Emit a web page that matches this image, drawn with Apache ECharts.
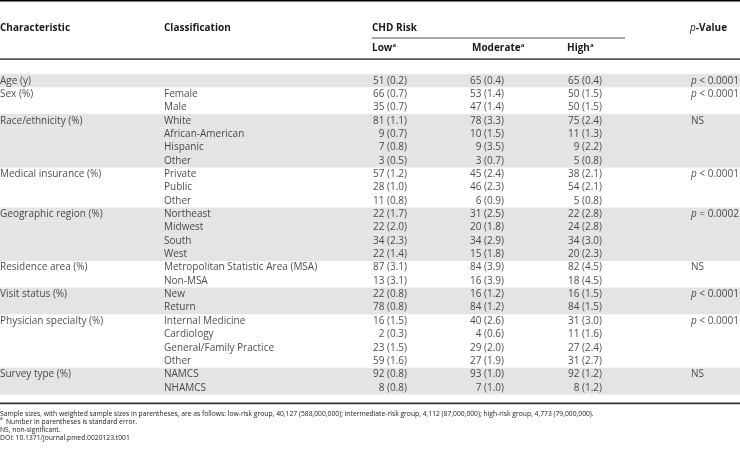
<!DOCTYPE html>
<html>
<head>
<meta charset="utf-8">
<script src="https://cdn.jsdelivr.net/npm/echarts@6/dist/echarts.min.js"></script>
<style>
html,body{margin:0;padding:0;background:#fff;}
#chart{width:740px;height:459px;}
</style>
</head>
<body>
<div id="chart"></div>
<script>
// ---- Table data ----
const characteristics = ['Age (y)', 'Sex (%)', 'Race/ethnicity (%)', 'Medical insurance (%)',
  'Geographic region (%)', 'Residence area (%)', 'Visit status (%)', 'Physician specialty (%)', 'Survey type (%)'];
const groupSizes = [1, 2, 4, 3, 4, 2, 2, 4, 2];
const classifications = ['', 'Female', 'Male', 'White', 'African-American', 'Hispanic', 'Other',
  'Private', 'Public', 'Other', 'Northeast', 'Midwest', 'South', 'West',
  'Metropolitan Statistic Area (MSA)', 'Non-MSA', 'New', 'Return',
  'Internal Medicine', 'Cardiology', 'General/Family Practice', 'Other', 'NAMCS', 'NHAMCS'];
const lowValue  = [51, 66, 35, 81, 9, 7, 3, 57, 28, 11, 22, 22, 34, 22, 87, 13, 22, 78, 16, 2, 23, 59, 92, 8];
const lowSE     = [0.2, 0.7, 0.7, 1.1, 0.7, 0.8, 0.5, 1.2, 1.0, 0.8, 1.7, 2.0, 2.3, 1.4, 3.1, 3.1, 0.8, 0.8, 1.5, 0.3, 1.5, 1.6, 0.8, 0.8];
const modValue  = [65, 53, 47, 78, 10, 9, 3, 45, 46, 6, 31, 20, 34, 15, 84, 16, 16, 84, 40, 4, 29, 27, 93, 7];
const modSE     = [0.4, 1.4, 1.4, 3.3, 1.5, 3.5, 0.7, 2.4, 2.3, 0.9, 2.5, 1.8, 2.9, 1.8, 3.9, 3.9, 1.2, 1.2, 2.6, 0.6, 2.0, 1.9, 1.0, 1.0];
const highValue = [65, 50, 50, 75, 11, 9, 5, 38, 54, 5, 22, 24, 34, 20, 82, 18, 16, 84, 31, 11, 27, 31, 92, 8];
const highSE    = [0.4, 1.5, 1.5, 2.4, 1.3, 2.2, 0.8, 2.1, 2.1, 0.8, 2.8, 2.8, 3.0, 2.3, 4.5, 4.5, 1.5, 1.5, 3.0, 1.6, 2.4, 2.7, 1.2, 1.2];
const pValues = ['< 0.0001', '< 0.0001', 'NS', '< 0.0001', '= 0.0002', 'NS', '< 0.0001', '< 0.0001', 'NS'];
const headers = ['Characteristic', 'Classification', 'CHD Risk', 'Low', 'Moderate', 'High', 'p-Value'];
const footnotes = [
  'Sample sizes, with weighted sample sizes in parentheses, are as follows: low-risk group, 40,127 (588,000,000); intermediate-risk group, 4,112 (87,000,000); high-risk group, 4,773 (79,000,000).',
  'Number in parentheses is standard error.',
  'NS, non-significant.',
  'DOI: 10.1371/journal.pmed.0020123.t001'
];

// ---- Layout constants ----
const W = 740;
const ROW_H = 13.35;
const BODY_TOP = 74;
const nRows = classifications.length;
const COL = { charX: 0, classX: 164, lowR: 407, modR: 504, highR: 602, pX: 691 };
const FONT = '"Open Sans", "Noto Sans", sans-serif';
const FS = 10;
const FN = 6.75;
const TXT = '#1a1a1a';

// derive group info per row
const rowGroup = [];
const groupStart = [];
groupSizes.forEach((n, g) => { groupStart.push(rowGroup.length); for (let i = 0; i < n; i++) rowGroup.push(g); });
const rowIds = classifications.map((_, i) => 'r' + i);

const fmt = (v, se) => v + ' (' + se.toFixed(1) + ')';

function textSeries(name, x, texts, align, rich) {
  const data = [];
  texts.forEach((t, i) => { if (t !== null && t !== '') data.push({ value: [x, i], txt: t }); });
  return {
    type: 'scatter', name, symbolSize: 0, silent: true, data,
    label: {
      show: true, position: align === 'right' ? 'left' : 'right', distance: 0,
      formatter: p => p.data.txt,
      fontFamily: FONT, fontSize: FS, color: TXT, rich: rich || undefined
    }
  };
}

const charCol = rowIds.map((_, i) => { const g = rowGroup[i]; return groupStart[g] === i ? characteristics[g] : ''; });
const pCol = rowIds.map((_, i) => {
  const g = rowGroup[i];
  if (groupStart[g] !== i) return '';
  const pv = pValues[g];
  return pv === 'NS' ? 'NS' : '{i|p} ' + pv;
});

const shadeData = rowIds.map((_, i) => (rowGroup[i] % 2 === 0 ? W : '-'));

const hdrFont = (size, weight) => ({ fontFamily: FONT, fontSize: size, fontWeight: weight, fill: TXT });
const supRich = {
  b: { fontFamily: FONT, fontSize: FS, fontWeight: 'bold', fill: TXT, color: TXT, lineHeight: 13 },
  s: { fontFamily: FONT, fontSize: 6, fontWeight: 'bold', fill: TXT, color: TXT, lineHeight: 13, verticalAlign: 'top', padding: [0, 0, 4, 0] }
};

const graphic = [
  { type: 'rect', shape: { x: 0, y: 0, width: W, height: 1.5 }, style: { fill: '#000' }, silent: true },
  { type: 'rect', shape: { x: 372, y: 37.5, width: 253, height: 1 }, style: { fill: '#555' }, silent: true },
  { type: 'rect', shape: { x: 0, y: 58.3, width: W, height: 1.6 }, style: { fill: '#555' }, silent: true },
  { type: 'rect', shape: { x: 0, y: 402.6, width: W, height: 1.6 }, style: { fill: '#333' }, silent: true },
  { type: 'text', x: COL.charX, y: 28, style: Object.assign({ text: headers[0], verticalAlign: 'middle' }, hdrFont(FS, 'bold')) },
  { type: 'text', x: COL.classX, y: 28, style: Object.assign({ text: headers[1], verticalAlign: 'middle' }, hdrFont(FS, 'bold')) },
  { type: 'text', x: 372, y: 28.5, style: Object.assign({ text: headers[2], verticalAlign: 'middle' }, hdrFont(FS, 'bold')) },
  { type: 'text', x: COL.pX - 1, y: 28, style: { text: '{i|p}{b|-Value}', verticalAlign: 'middle',
      rich: { i: { fontFamily: FONT, fontSize: FS, fontStyle: 'italic', fill: TXT }, b: { fontFamily: FONT, fontSize: FS, fontWeight: 'bold', fill: TXT } } } },
  { type: 'text', x: 372, y: 48.5, style: { text: '{b|' + headers[3] + '}{s|a}', verticalAlign: 'middle', rich: supRich } },
  { type: 'text', x: 472, y: 48.5, style: { text: '{b|' + headers[4] + '}{s|a}', verticalAlign: 'middle', rich: supRich } },
  { type: 'text', x: 567, y: 48.5, style: { text: '{b|' + headers[5] + '}{s|a}', verticalAlign: 'middle', rich: supRich } },
  { type: 'text', x: 0, y: 414.3, style: Object.assign({ text: footnotes[0], verticalAlign: 'middle' }, hdrFont(FN, 'normal')) },
  { type: 'text', x: 0, y: 422.5, style: { text: '{s|a} {n|' + footnotes[1] + '}', verticalAlign: 'middle',
      rich: { s: { fontFamily: FONT, fontSize: 4.8, fill: TXT, verticalAlign: 'top', lineHeight: 8 }, n: { fontFamily: FONT, fontSize: FN, fill: TXT, lineHeight: 8 } } } },
  { type: 'text', x: 0, y: 430.2, style: Object.assign({ text: footnotes[2], verticalAlign: 'middle' }, hdrFont(FN, 'normal')) },
  { type: 'text', x: 0, y: 437.8, style: Object.assign({ text: footnotes[3], verticalAlign: 'middle' }, hdrFont(FN, 'normal')) }
];

const chart = echarts.init(document.getElementById('chart'), null, { renderer: 'canvas' });
chart.setOption({
  animation: false,
  backgroundColor: '#fff',
  grid: { left: 0, right: 0, top: BODY_TOP, height: ROW_H * nRows, containLabel: false },
  xAxis: { type: 'value', min: 0, max: W, show: false },
  yAxis: { type: 'category', data: rowIds, inverse: true, show: false, boundaryGap: true },
  graphic,
  series: [
    { type: 'bar', name: 'shade', data: shadeData, barWidth: '100%', barCategoryGap: '0%', silent: true,
      itemStyle: { color: '#e4e4e4' }, z: 1 },
    textSeries('characteristic', COL.charX, charCol, 'left'),
    textSeries('classification', COL.classX, classifications, 'left'),
    textSeries('low', COL.lowR, lowValue.map((v, i) => fmt(v, lowSE[i])), 'right'),
    textSeries('moderate', COL.modR, modValue.map((v, i) => fmt(v, modSE[i])), 'right'),
    textSeries('high', COL.highR, highValue.map((v, i) => fmt(v, highSE[i])), 'right'),
    textSeries('p', COL.pX, pCol, 'left', { i: { fontFamily: FONT, fontSize: FS, fontStyle: 'italic', color: TXT } })
  ]
});
</script>
</body>
</html>
